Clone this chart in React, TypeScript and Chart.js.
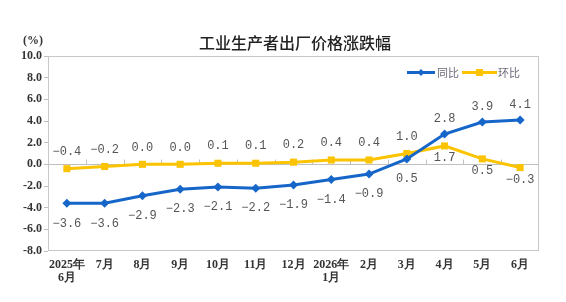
import React, { useEffect, useRef } from "react";
import { Chart, registerables } from "chart.js";

Chart.register(...registerables);

const categories: string[][] = [
  ["2025年", "6月"], ["7月"], ["8月"], ["9月"], ["10月"], ["11月"], ["12月"],
  ["2026年", "1月"], ["2月"], ["3月"], ["4月"], ["5月"], ["6月"],
];
const yoy = [-3.6, -3.6, -2.9, -2.3, -2.1, -2.2, -1.9, -1.4, -0.9, 0.5, 2.8, 3.9, 4.1];
const mom = [-0.4, -0.2, 0.0, 0.0, 0.1, 0.1, 0.2, 0.4, 0.4, 1.0, 1.7, 0.5, -0.3];
const yoyLabelSide = ["b", "b", "b", "b", "b", "b", "b", "b", "b", "b", "a", "a", "a"];
const momLabelSide = ["a", "a", "a", "a", "a", "a", "a", "a", "a", "a", "b", "b", "b"];
const title = "工业生产者出厂价格涨跌幅";
const unit = "(%)";
const seriesNames = ["同比", "环比"];

const BLUE = "#1666c9";
const YELLOW = "#fcc400";

const decorPlugin = {
  id: "decor",
  beforeDatasetsDraw(chart: any) {
    const { ctx, chartArea, scales } = chart;
    const y = scales.y;
    ctx.save();
    ctx.strokeStyle = "#c8c8c8";
    ctx.lineWidth = 1;
    ctx.strokeRect(chartArea.left + 0.5, chartArea.top + 0.5, chartArea.right - chartArea.left - 1, chartArea.bottom - chartArea.top - 1);
    const y0 = Math.round(y.getPixelForValue(0)) + 0.5;
    ctx.strokeStyle = "#c0c0c0";
    ctx.beginPath();
    ctx.moveTo(chartArea.left, y0);
    ctx.lineTo(chartArea.right, y0);
    const n = categories.length;
    const w = (chartArea.right - chartArea.left) / n;
    for (let i = 1; i < n; i++) {
      const px = Math.round(chartArea.left + w * i) + 0.5;
      ctx.moveTo(px, y0);
      ctx.lineTo(px, y0 - 5);
    }
    ctx.stroke();
    ctx.restore();
  },
  afterDatasetsDraw(chart: any) {
    const { ctx } = chart;
    ctx.save();
    ctx.font = "12px 'Liberation Mono', monospace";
    ctx.fillStyle = "#555555";
    ctx.textAlign = "center";
    ctx.textBaseline = "middle";
    const fmt = (v: number) => (v < 0 ? "\u2212" : "") + Math.abs(v).toFixed(1);
    const m0 = chart.getDatasetMeta(0);
    m0.data.forEach((p: any, i: number) => {
      const dy = yoyLabelSide[i] === "a" ? -15 : 20;
      ctx.fillText(fmt(yoy[i]), p.x, p.y + dy);
    });
    const m1 = chart.getDatasetMeta(1);
    m1.data.forEach((p: any, i: number) => {
      const dy = momLabelSide[i] === "a" ? -17 : 12;
      ctx.fillText(fmt(mom[i]), p.x, p.y + dy);
    });
    ctx.restore();
  },
  afterDraw(chart: any) {
    const { ctx } = chart;
    ctx.save();
    ctx.fillStyle = "#222222";
    ctx.font = "500 16px 'Noto Sans CJK SC', sans-serif";
    ctx.textAlign = "center";
    ctx.textBaseline = "middle";
    ctx.fillText(title, 295, 43);
    ctx.font = "bold 12px 'Liberation Serif', serif";
    ctx.fillStyle = "#333333";
    ctx.fillText(unit, 33, 41);
    const ly = 72.5;
    ctx.lineWidth = 3;
    ctx.strokeStyle = BLUE;
    ctx.beginPath();
    ctx.moveTo(407, ly);
    ctx.lineTo(435, ly);
    ctx.stroke();
    ctx.fillStyle = BLUE;
    ctx.beginPath();
    ctx.moveTo(421, ly - 3.5);
    ctx.lineTo(424.5, ly);
    ctx.lineTo(421, ly + 3.5);
    ctx.lineTo(417.5, ly);
    ctx.closePath();
    ctx.fill();
    ctx.strokeStyle = YELLOW;
    ctx.beginPath();
    ctx.moveTo(462, ly);
    ctx.lineTo(497, ly);
    ctx.stroke();
    ctx.fillStyle = YELLOW;
    ctx.fillRect(476, ly - 3.5, 7, 7);
    ctx.font = "11px 'Noto Sans CJK SC', sans-serif";
    ctx.fillStyle = "#6a6a7a";
    ctx.textAlign = "left";
    ctx.fillText(seriesNames[0], 437, ly);
    ctx.fillText(seriesNames[1], 498, ly);
    ctx.restore();
  },
};

export default function App() {
  const ref = useRef<HTMLCanvasElement | null>(null);
  useEffect(() => {
    document.body.style.margin = "0";
    const canvas = ref.current;
    if (!canvas) return;
    const chart = new Chart(canvas, {
      type: "line",
      data: {
        labels: categories as any,
        datasets: [
          {
            label: seriesNames[0],
            data: yoy,
            borderColor: BLUE,
            backgroundColor: BLUE,
            borderWidth: 3,
            pointStyle: "rectRot",
            pointRadius: 4.5,
            pointBorderWidth: 0,
            tension: 0,
          },
          {
            label: seriesNames[1],
            data: mom,
            borderColor: YELLOW,
            backgroundColor: YELLOW,
            borderWidth: 3,
            pointStyle: "rect",
            pointRadius: 5,
            pointBorderWidth: 0,
            tension: 0,
          },
        ],
      },
      options: {
        responsive: false,
        animation: false,
        devicePixelRatio: 1,
        layout: { padding: { top: 56, right: 27, left: 0, bottom: 0 } },
        plugins: { legend: { display: false }, tooltip: { enabled: false }, title: { display: false } },
        scales: {
          x: {
            offset: true,
            grid: { display: false },
            border: { display: false },
            ticks: {
              color: "#333333",
              font: { family: "'Liberation Serif', serif", size: 12, weight: "bold", lineHeight: 1.1 },
              padding: -1,
              maxRotation: 0,
              autoSkip: false,
            },
            afterFit: (s: any) => { s.height = 51; },
          },
          y: {
            min: -8,
            max: 10,
            border: { display: false },
            grid: { drawOnChartArea: false, drawTicks: true, tickLength: 4, color: "#c0c0c0" },
            ticks: {
              stepSize: 2,
              color: "#333333",
              padding: 2,
              font: { family: "'Liberation Serif', serif", size: 12, weight: "bold" },
              callback: (v: any) => Number(v).toFixed(1),
            },
            afterFit: (s: any) => { s.width = 48; },
          },
        },
      },
      plugins: [decorPlugin],
    });
    return () => chart.destroy();
  }, []);
  return <canvas ref={ref} width={566} height={302} style={{ display: "block" }} />;
}
